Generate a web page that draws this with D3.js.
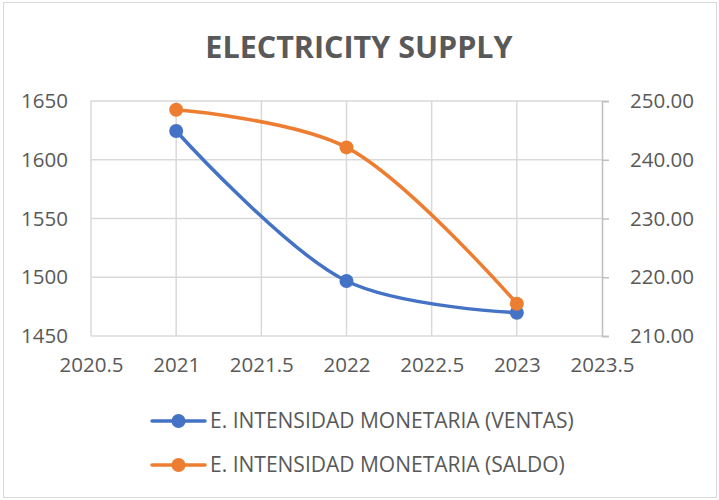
<!DOCTYPE html>
<html>
<head>
<meta charset="utf-8">
<script src="https://cdn.jsdelivr.net/npm/d3@7"></script>
<style>
  body { margin: 0; background: #fff; }
  text { font-family: "Open Sans", sans-serif; fill: #595959; }
</style>
</head>
<body>
<div id="chart"></div>
<script>
  var width = 719,
      height = 500;

  // data
  var years = [2021, 2022, 2023];
  var ventas = [1624.5, 1496.8, 1469.8];
  var saldo = [248.5, 242.1, 215.5];
  var xTicks = [2020.5, 2021, 2021.5, 2022, 2022.5, 2023, 2023.5];
  var leftTicks = [1450, 1500, 1550, 1600, 1650];
  var rightTicks = [210, 220, 230, 240, 250];
  var seriesNames = ["E. INTENSIDAD MONETARIA (VENTAS)", "E. INTENSIDAD MONETARIA (SALDO)"];
  var colors = ["#4472c4", "#ed7d31"];

  var margin = {left: 91, right: 117, top: 101, bottom: 164};

  var svg = d3.select("#chart").append("svg")
      .attr("width", width)
      .attr("height", height);

  // chart border
  svg.append("rect")
      .attr("x", 3.5).attr("y", 2.5)
      .attr("width", width - 6).attr("height", height - 5)
      .attr("fill", "#fff")
      .attr("stroke", "#d9d9d9");

  svg.append("text")
      .attr("x", 359)
      .attr("y", 58)
      .attr("text-anchor", "middle")
      .style("font-size", "30.5px")
      .style("font-weight", "bold")
      .text("ELECTRICITY SUPPLY");

  var x = d3.scaleLinear().domain([2020.5, 2023.5]).range([margin.left, width - margin.right]);
  var yL = d3.scaleLinear().domain([1450, 1650]).range([height - margin.bottom, margin.top]);
  var yR = d3.scaleLinear().domain([210, 250]).range([height - margin.bottom, margin.top]);

  var g = svg.append("g");

  // horizontal gridlines
  g.selectAll(".hgrid")
    .data(leftTicks)
    .enter().append("line")
      .attr("x1", x(2020.5)).attr("x2", x(2023.5))
      .attr("y1", function(d) { return yL(d); })
      .attr("y2", function(d) { return yL(d); })
      .attr("stroke", "#d9d9d9")
      .attr("stroke-width", 1.5);

  // vertical gridlines
  g.selectAll(".vgrid")
    .data(xTicks.slice(0, -1))
    .enter().append("line")
      .attr("x1", function(d) { return x(d); })
      .attr("x2", function(d) { return x(d); })
      .attr("y1", yL(1450)).attr("y2", yL(1650))
      .attr("stroke", "#d9d9d9")
      .attr("stroke-width", 1.5);

  var tickFont = "20.5px";

  // right axis
  var rAxis = g.append("g")
      .attr("transform", "translate(" + x(2023.5) + ",0)")
      .call(d3.axisRight(yR).tickValues(rightTicks).tickSize(7).tickPadding(21)
        .tickFormat(d3.format(".2f")));
  rAxis.select(".domain").attr("stroke", "#bfbfbf").attr("stroke-width", 1.5);
  rAxis.selectAll(".tick line").attr("stroke", "#bfbfbf").attr("stroke-width", 1.5);
  rAxis.selectAll("text").attr("fill", "#595959").style("font-size", tickFont)
      .style("font-family", "Open Sans, sans-serif");

  // left axis labels
  var lAxis = g.append("g")
      .attr("transform", "translate(" + x(2020.5) + ",0)")
      .call(d3.axisLeft(yL).tickValues(leftTicks).tickSize(0).tickPadding(23)
        .tickFormat(d3.format("d")));
  lAxis.select(".domain").remove();
  lAxis.selectAll("text").attr("fill", "#595959").style("font-size", tickFont)
      .style("font-family", "Open Sans, sans-serif");

  // bottom axis labels
  var bAxis = g.append("g")
      .attr("transform", "translate(0," + yL(1450) + ")")
      .call(d3.axisBottom(x).tickValues(xTicks).tickSize(0).tickPadding(21)
        .tickFormat(function(d) { return String(d); }));
  bAxis.select(".domain").remove();
  bAxis.selectAll("text").attr("fill", "#595959").style("font-size", tickFont)
      .style("font-family", "Open Sans, sans-serif");

  var series = [
    {name: seriesNames[0], values: ventas, y: yL, color: colors[0]},
    {name: seriesNames[1], values: saldo, y: yR, color: colors[1]}
  ];

  series.forEach(function(s) {
    var line = d3.line()
        .x(function(d, i) { return x(years[i]); })
        .y(function(d) { return s.y(d); })
        .curve(d3.curveCatmullRom.alpha(0.5));

    g.append("path")
        .datum(s.values)
        .attr("d", line)
        .attr("fill", "none")
        .attr("stroke", s.color)
        .attr("stroke-width", 3.5)
        .attr("stroke-linecap", "round");

    g.selectAll(null)
      .data(s.values)
      .enter().append("circle")
        .attr("cx", function(d, i) { return x(years[i]); })
        .attr("cy", function(d) { return s.y(d); })
        .attr("r", 7)
        .attr("fill", s.color);
  });

  // legend
  var legend = svg.selectAll(".legend")
    .data(series)
    .enter().append("g")
      .attr("class", "legend")
      .attr("transform", function(d, i) { return "translate(152," + (421 + i * 44) + ")"; });

  legend.append("line")
      .attr("x1", 0).attr("x2", 53)
      .attr("stroke", function(d) { return d.color; })
      .attr("stroke-width", 3.5)
      .attr("stroke-linecap", "round");

  legend.append("circle")
      .attr("cx", 26.5)
      .attr("r", 7)
      .attr("fill", function(d) { return d.color; });

  legend.append("text")
      .attr("x", 58)
      .attr("dy", "0.35em")
      .style("font-size", "21px")
      .text(function(d) { return d.name; });
</script>
</body>
</html>
